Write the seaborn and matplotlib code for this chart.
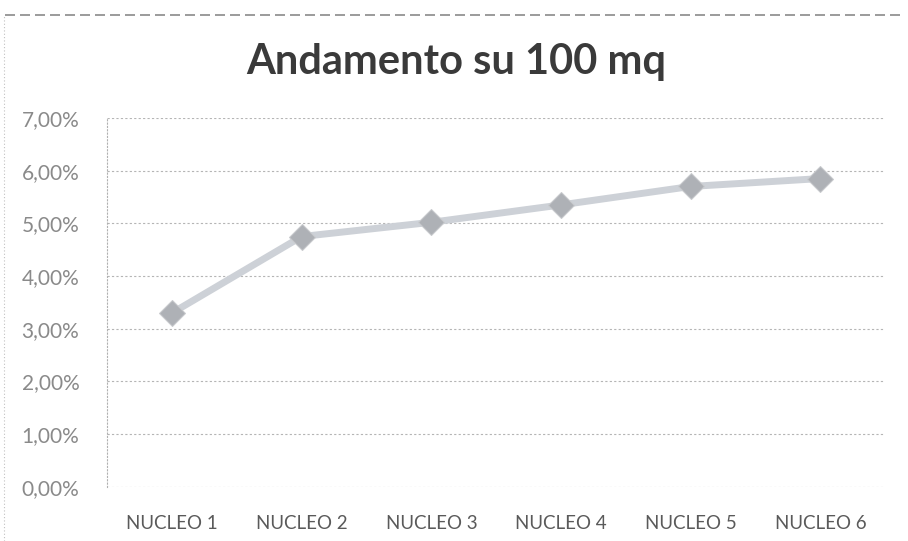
import matplotlib
matplotlib.use("Agg")
import matplotlib.pyplot as plt
import seaborn as sns
import pandas as pd
from matplotlib.ticker import FuncFormatter

# Data
nuclei = ['NUCLEO 1', 'NUCLEO 2', 'NUCLEO 3', 'NUCLEO 4', 'NUCLEO 5', 'NUCLEO 6']
andamento = [3.30, 4.75, 5.02, 5.35, 5.70, 5.85]
y_ticks = [0, 1, 2, 3, 4, 5, 6, 7]

df = pd.DataFrame({'nucleo': nuclei, 'andamento': andamento})

sns.set_theme(style="white")
plt.rcParams['font.family'] = ['Lato', 'DejaVu Sans']

fig = plt.figure(figsize=(9.08, 5.41), dpi=100)
ax = fig.add_axes([0.118, 0.100, 0.857, 0.682])

sns.lineplot(data=df, x='nucleo', y='andamento', ax=ax, color='#cdd1d7',
             linewidth=5, marker='D', markersize=13,
             markerfacecolor='#aeb1b6', markeredgecolor='#c8cacd', sort=False)

ax.set_ylim(0, 7)
ax.set_xlim(-0.5, 5.5)
ax.set_yticks(y_ticks)
ax.yaxis.set_major_formatter(FuncFormatter(lambda v, p: f"{v:.2f}%".replace('.', ',')))
ax.grid(axis='y', color='#b5b5b5', linestyle=(0, (2, 2)), linewidth=0.8)
ax.set_axisbelow(True)

for s in ['top', 'right', 'bottom']:
    ax.spines[s].set_visible(False)
ax.spines['left'].set_color('#b0b0b0')
ax.spines['left'].set_linestyle((0, (1, 2)))
ax.spines['left'].set_linewidth(0.8)

ax.tick_params(axis='y', colors='#8a8a8a', labelsize=15, length=0, pad=20)
ax.tick_params(axis='x', colors='#5a5a5a', labelsize=13.5, length=0, pad=20)
ax.set_xlabel('')
ax.set_ylabel('')

# Title
fig.text(0.503, 0.885, 'Andamento su 100 mq', ha='center', va='center',
         fontsize=30, fontweight='bold', color='#3a3a3a')

# Chart border remnants
fig.add_artist(plt.Line2D([0.005, 0.995], [0.972, 0.972], color='#8a8a8a',
                          linewidth=1.2, linestyle=(0, (6, 3))))
fig.add_artist(plt.Line2D([0.004, 0.004], [0.0, 0.97], color='#c0c0c0',
                          linewidth=0.8, linestyle=(0, (1, 2))))

fig.savefig('out.png', dpi=100, facecolor='white')
